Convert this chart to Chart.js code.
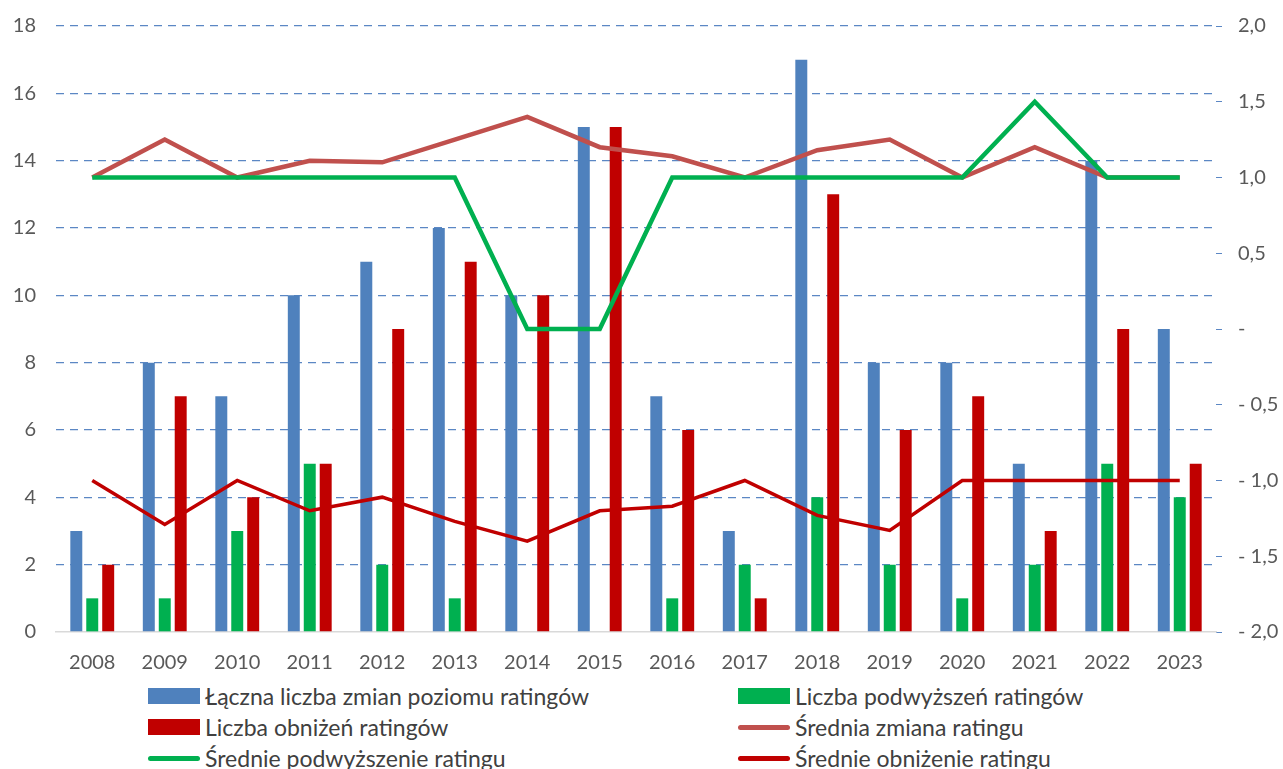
<!DOCTYPE html>
<html>
<head>
<meta charset="utf-8">
<script src="https://cdn.jsdelivr.net/npm/chart.js@4"></script>
<style>
  body { margin: 0; background: #fff; font-family: Lato, "Open Sans", sans-serif; overflow: hidden; }
  #wrap { position: relative; width: 1283px; height: 769px; overflow: hidden; }
  #box { position: absolute; left: 0; top: -6px; width: 1283px; height: 686px; }
  #legend { position: absolute; left: 0; top: 681px; width: 1283px; height: 88px; }
  .item { position: absolute; display: flex; align-items: center; font-size: 23px; color: #404040; white-space: nowrap; }
  .sw { width: 52px; margin-right: 5px; }
</style>
</head>
<body>
<div id="wrap">
  <div id="box"><canvas id="chart"></canvas></div>
  <div id="legend"></div>
</div>
<script>
// Categories
const years = ['2008', '2009', '2010', '2011', '2012', '2013', '2014', '2015',
               '2016', '2017', '2018', '2019', '2020', '2021', '2022', '2023'];

// Bars (left axis)
const totalChanges = [3, 8, 7, 10, 11, 12, 10, 15, 7, 3, 17, 8, 8, 5, 14, 9];
const upgrades     = [1, 1, 3, 5, 2, 1, 0, 0, 1, 2, 4, 2, 1, 2, 5, 4];
const downgrades   = [2, 7, 4, 5, 9, 11, 10, 15, 6, 1, 13, 6, 7, 3, 9, 5];

// Lines (right axis)
const avgChange    = [1.0, 1.25, 1.0, 1.11, 1.1, 1.25, 1.4, 1.2, 1.14, 1.0, 1.18, 1.25, 1.0, 1.2, 1.0, 1.0];
const avgUpgrade   = [1.0, 1.0, 1.0, 1.0, 1.0, 1.0, 0, 0, 1.0, 1.0, 1.0, 1.0, 1.0, 1.5, 1.0, 1.0];
const avgDowngrade = [-1.0, -1.29, -1.0, -1.2, -1.11, -1.27, -1.4, -1.2, -1.17, -1.0, -1.23, -1.33, -1.0, -1.0, -1.0, -1.0];

// Tick settings
const leftMax = 18, leftStep = 2;
const rightMin = -2, rightMax = 2, rightStep = 0.5;

const tickFont = { family: 'Lato', size: 20 };
const tickColor = '#595959';

function fmtRight(v) {
    if (Math.abs(v) < 1e-9) return '-';
    const s = Math.abs(v).toFixed(1).replace('.', ',');
    return v < 0 ? '- ' + s : s;
}

const ctx = document.getElementById('chart').getContext('2d');

const data = {
    labels: years,
    datasets: [
        { type: 'bar', label: 'Łączna liczba zmian poziomu ratingów', data: totalChanges,
          backgroundColor: '#4F81BD', yAxisID: 'y', order: 10 },
        { type: 'bar', label: 'Liczba podwyższeń ratingów', data: upgrades,
          backgroundColor: '#00B050', yAxisID: 'y', order: 10 },
        { type: 'bar', label: 'Liczba obniżeń ratingów', data: downgrades,
          backgroundColor: '#C00000', yAxisID: 'y', order: 10 },
        { type: 'line', label: 'Średnia zmiana ratingu', data: avgChange,
          borderColor: '#C0504D', backgroundColor: '#C0504D', borderWidth: 4.5,
          pointRadius: 0, tension: 0, yAxisID: 'y2', order: 3 },
        { type: 'line', label: 'Średnie podwyższenie ratingu', data: avgUpgrade,
          borderColor: '#00B050', backgroundColor: '#00B050', borderWidth: 4.5,
          pointRadius: 0, tension: 0, yAxisID: 'y2', order: 1 },
        { type: 'line', label: 'Średnie obniżenie ratingu', data: avgDowngrade,
          borderColor: '#C00000', backgroundColor: '#C00000', borderWidth: 3.5,
          pointRadius: 0, tension: 0, yAxisID: 'y2', order: 2 },
    ],
};

const config = {
    data: data,
    options: {
        responsive: true,
        maintainAspectRatio: false,
        animation: false,
        layout: { padding: { top: 20, left: 0, right: 0, bottom: 0 } },
        datasets: {
            bar: { categoryPercentage: 0.66, barPercentage: 0.75 },
        },
        plugins: {
            legend: { display: false },
            tooltip: { enabled: false },
        },
        scales: {
            x: {
                grid: { display: false, drawTicks: false },
                border: { display: true, color: '#D9D9D9', width: 1.5 },
                ticks: { font: tickFont, color: tickColor, padding: 19 },
                afterFit: (s) => { s.height = 48; },
            },
            y: {
                position: 'left',
                min: 0,
                max: leftMax,
                ticks: { stepSize: leftStep, font: tickFont, color: tickColor, padding: 20 },
                border: { display: false, dash: [8, 6] },
                grid: {
                    color: (c) => (c.tick && c.tick.value === 0) ? 'rgba(0,0,0,0)' : '#5B87C4',
                    lineWidth: 1.3,
                    drawTicks: false,
                },
                afterFit: (s) => { s.width = 56; },
            },
            y2: {
                position: 'right',
                min: rightMin,
                max: rightMax,
                ticks: { stepSize: rightStep, font: tickFont, color: tickColor, padding: 16,
                         callback: (v) => fmtRight(v) },
                border: { display: false },
                grid: { drawOnChartArea: false, color: '#5B87C4', tickLength: 6 },
                afterFit: (s) => { s.width = 67; },
            },
        },
    },
};

const chart = new Chart(ctx, config);

// HTML legend built from the datasets, two columns
const legend = document.getElementById('legend');
const colX = [148, 738];
const rowY = [1, 32, 63];
chart.data.datasets.forEach((ds, i) => {
    const el = document.createElement('div');
    el.className = 'item';
    el.style.left = colX[i % 2] + 'px';
    el.style.top = rowY[Math.floor(i / 2)] + 'px';
    const sw = document.createElement('span');
    sw.className = 'sw';
    if (ds.type === 'bar') {
        sw.style.height = '16px';
        sw.style.background = ds.backgroundColor;
    } else {
        sw.style.height = '5px';
        sw.style.borderRadius = '3px';
        sw.style.background = ds.borderColor;
    }
    const tx = document.createElement('span');
    tx.textContent = ds.label;
    el.appendChild(sw);
    el.appendChild(tx);
    legend.appendChild(el);
});
</script>
</body>
</html>
